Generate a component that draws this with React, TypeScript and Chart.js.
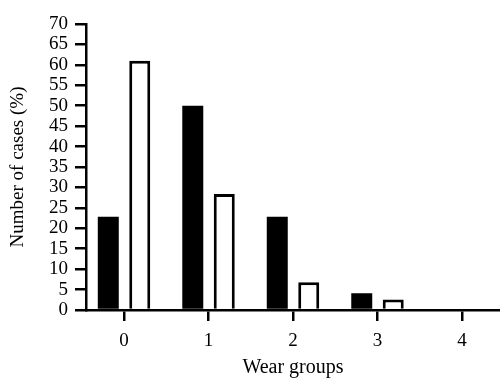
import React, { useEffect, useRef } from "react";
import { Chart, registerables } from "chart.js";

Chart.register(...registerables);

const categories = [0, 1, 2, 3, 4];
const blackValues = [22.8, 50, 22.8, 4.1, 0];
const whiteValues = [61, 28.4, 6.8, 2.6, 0];
const yTicks = [0, 5, 10, 15, 20, 25, 30, 35, 40, 45, 50, 55, 60, 65, 70];

const FONT = "'Liberation Serif', 'Times New Roman', serif";

export default function App() {
  const ref = useRef<HTMLCanvasElement | null>(null);
  useEffect(() => {
    if (!ref.current) return;
    const chart = new Chart(ref.current, {
      type: "bar",
      data: {
        datasets: [
          {
            label: "A",
            data: categories.map((c, i) => ({ x: c, y: blackValues[i] })),
            backgroundColor: "#000",
            borderWidth: 0,
            categoryPercentage: 0.745,
            barPercentage: 0.667,
          },
          {
            label: "B",
            data: categories.map((c, i) => ({ x: c, y: whiteValues[i] })),
            backgroundColor: "#fff",
            borderColor: "#000",
            borderWidth: 3,
            categoryPercentage: 0.745,
            barPercentage: 0.667,
          },
        ],
      },
      options: {
        responsive: false,
        animation: false,
        layout: { padding: { top: 24, left: 0, right: 0, bottom: 0 } },
        plugins: { legend: { display: false }, tooltip: { enabled: false } },
        scales: {
          x: {
            type: "linear",
            min: -0.45,
            max: 4.45,
            offset: false,
            afterBuildTicks: (s: any) => {
              s.ticks = categories.map((v) => ({ value: v }));
            },
            afterFit: (s: any) => {
              s.height = 70;
            },
            ticks: {
              color: "#000",
              font: { family: FONT, size: 19 },
              padding: 9,
              autoSkip: false,
              maxRotation: 0,
              callback: (v: any) => String(v),
            },
            grid: {
              offset: false,
              drawOnChartArea: false,
              drawTicks: true,
              tickLength: 11,
              color: "#000",
              lineWidth: 2.5,
            },
            border: { display: true, color: "#000", width: 2.5 },
            title: {
              display: true,
              text: "Wear groups",
              color: "#000",
              font: { family: FONT, size: 20 },
              padding: { top: 2, bottom: 0 },
            },
          },
          y: {
            min: 0,
            max: 70,
            afterBuildTicks: (s: any) => {
              s.ticks = yTicks.map((v) => ({ value: v }));
            },
            afterFit: (s: any) => {
              s.width = 86;
            },
            ticks: {
              color: "#000",
              font: { family: FONT, size: 19 },
              padding: 7,
              autoSkip: false,
            },
            grid: {
              drawOnChartArea: false,
              drawTicks: true,
              tickLength: 11,
              color: "#000",
              lineWidth: 2.5,
            },
            border: { display: true, color: "#000", width: 2.5 },
            title: {
              display: true,
              text: "Number of cases (%)",
              color: "#000",
              font: { family: FONT, size: 19 },
              padding: { top: 7, bottom: 0 },
            },
          },
        },
      },
    });
    return () => chart.destroy();
  }, []);
  return (
    <div style={{ position: "fixed", left: 0, top: 0, width: 500, height: 380, background: "#fff" }}>
      <canvas ref={ref} width={500} height={380} style={{ width: 500, height: 380 }} />
    </div>
  );
}
